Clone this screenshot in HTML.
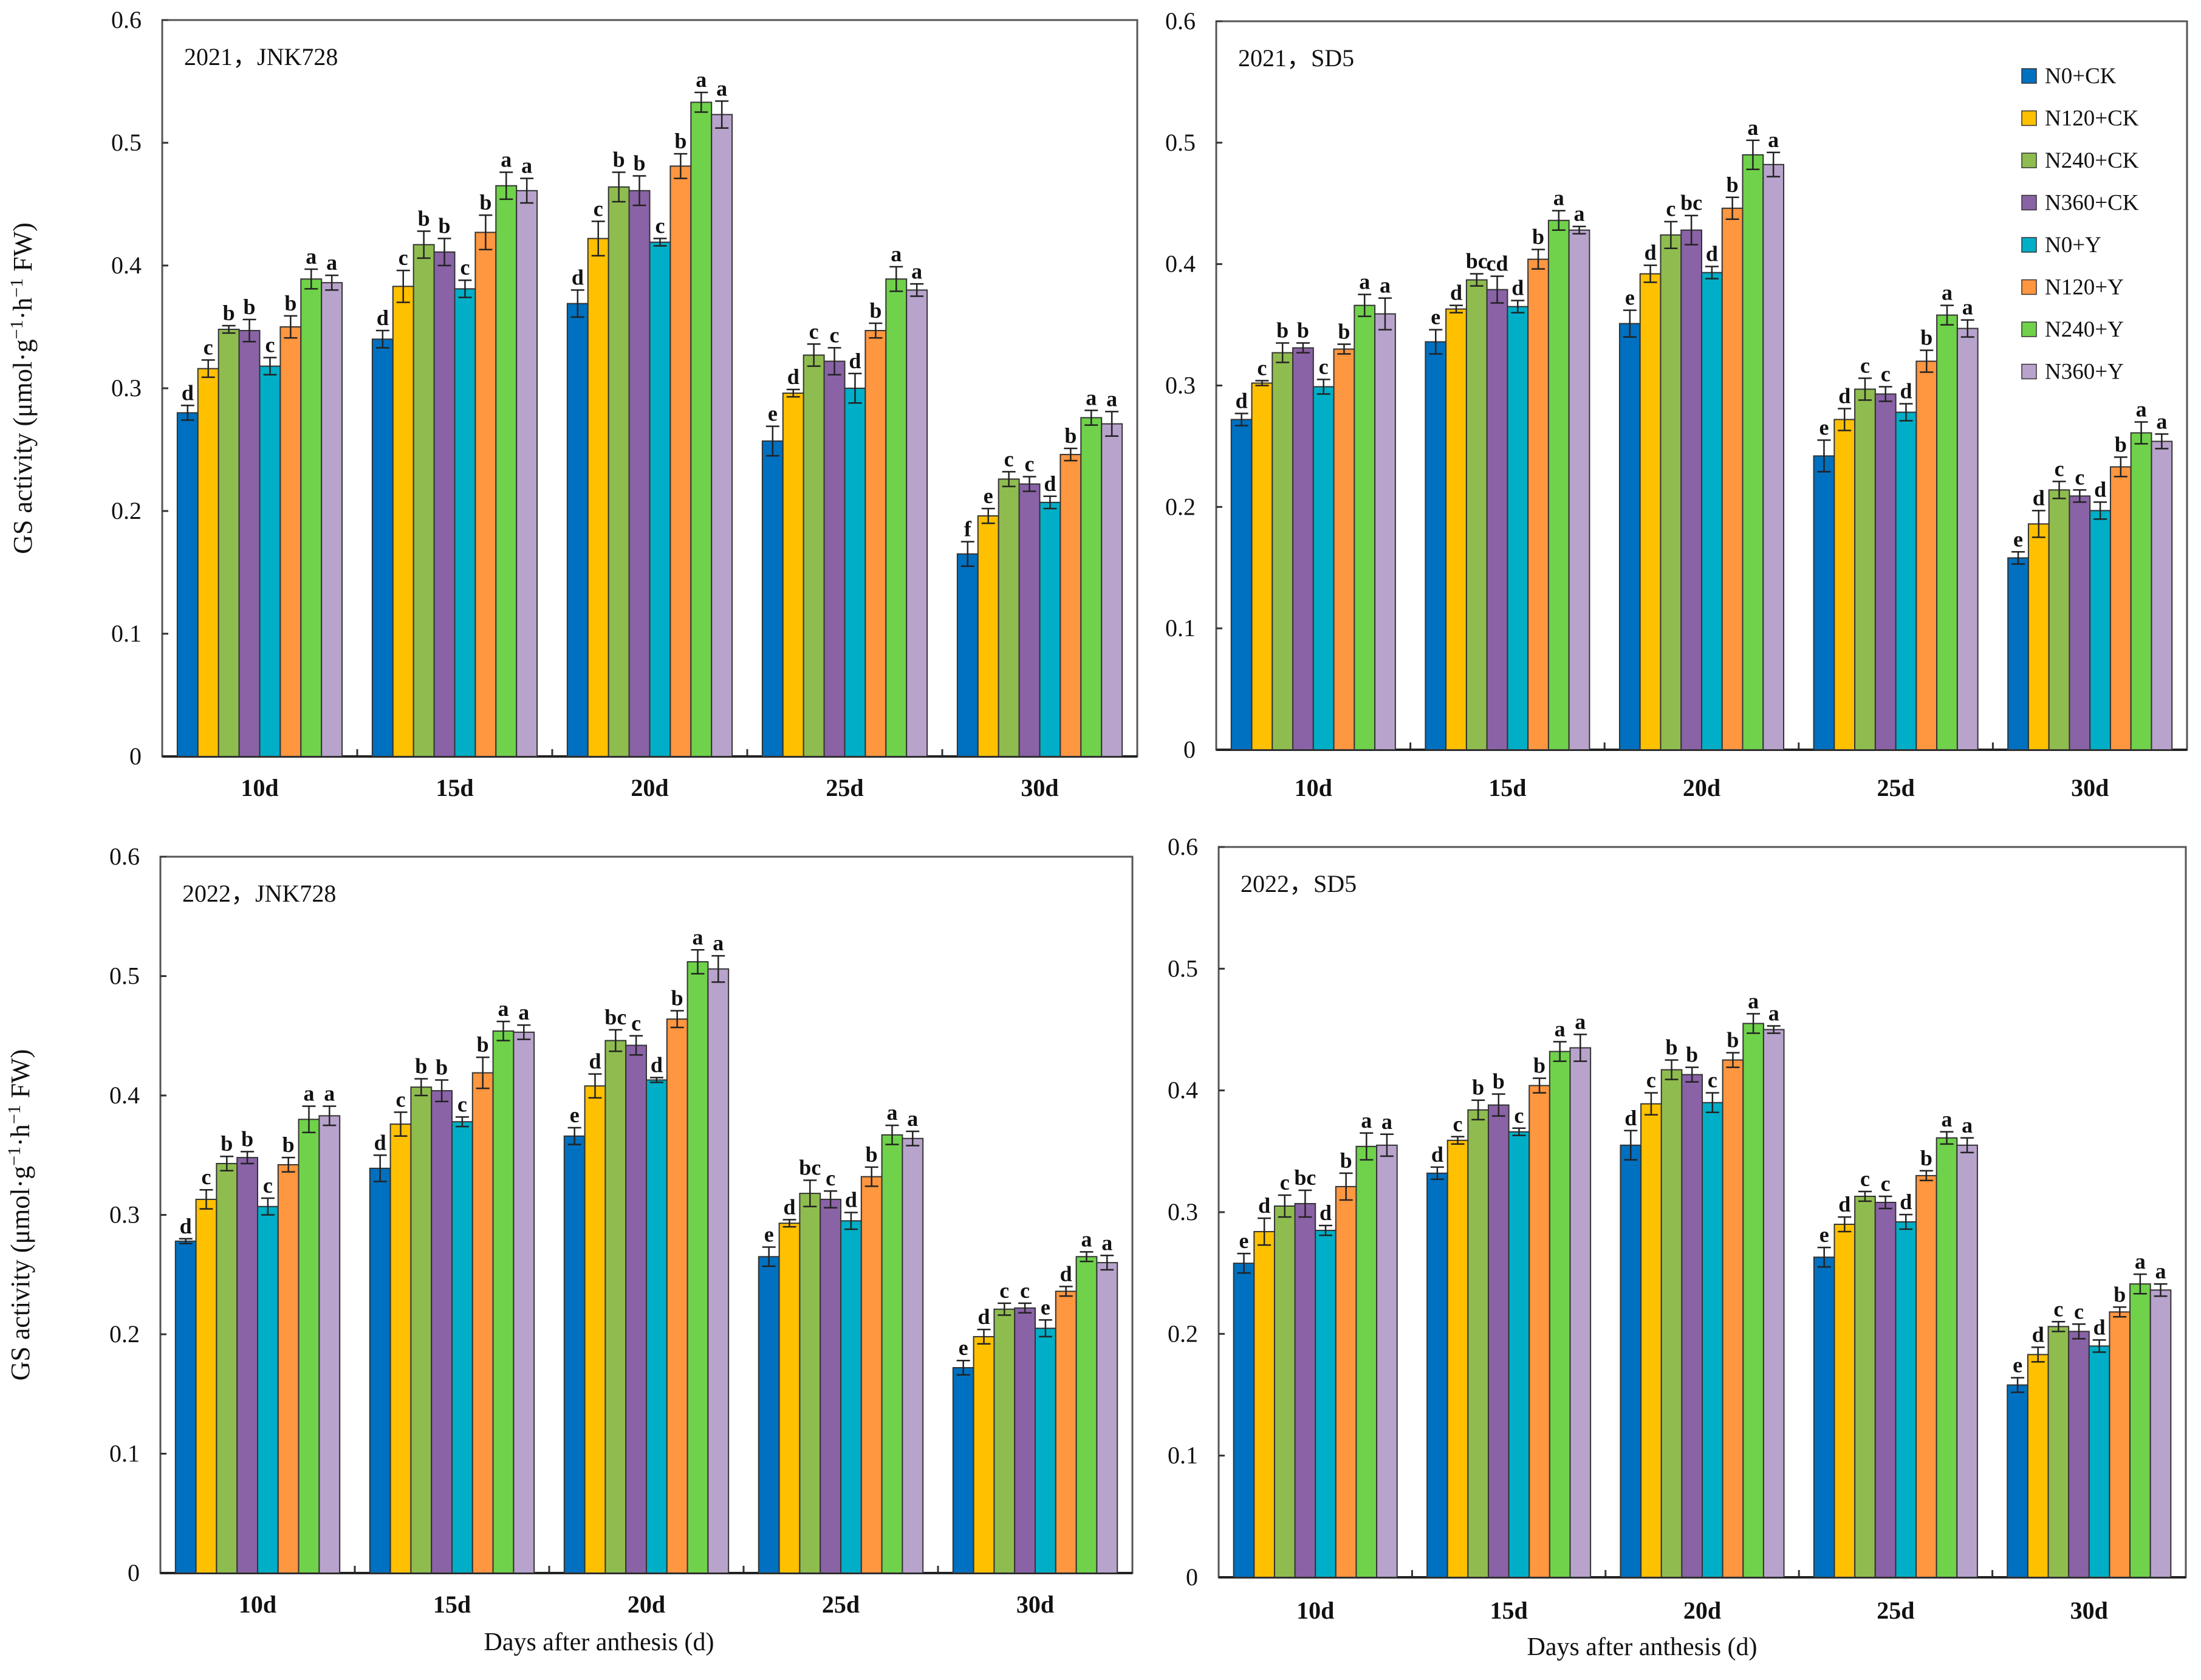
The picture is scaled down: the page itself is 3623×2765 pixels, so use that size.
<!DOCTYPE html>
<html><head><meta charset="utf-8"><style>
html,body{margin:0;padding:0;background:#fff;}
svg{display:block;font-family:"Liberation Serif",serif;}
</style></head><body>
<svg id="chart" width="3623" height="2765" viewBox="0 0 3623 2765" xmlns="http://www.w3.org/2000/svg"></svg>
<script>
const categories = ["10d","15d","20d","25d","30d"];
const seriesNames = ["N0+CK","N120+CK","N240+CK","N360+CK","N0+Y","N120+Y","N240+Y","N360+Y"];
const seriesColors = ["#0070C0","#FFC000","#8FBC4F","#8A62A6","#00AEC7","#FF9640","#6FD24A","#B8A3CC"];
const yTicks = [0,0.1,0.2,0.3,0.4,0.5,0.6];
const yTickLabels = ["0","0.1","0.2","0.3","0.4","0.5","0.6"];

// 2021 JNK728
const valsA = [[.280,.316,.348,.347,.318,.350,.389,.386],[.340,.383,.417,.411,.381,.427,.465,.461],[.369,.422,.464,.461,.419,.481,.533,.523],[.257,.296,.327,.322,.300,.347,.389,.380],[.165,.196,.226,.222,.207,.246,.276,.271]];
const errA = [[.006,.007,.003,.009,.007,.009,.008,.006],[.007,.013,.011,.011,.007,.014,.011,.010],[.011,.014,.012,.012,.003,.010,.008,.011],[.012,.003,.009,.011,.012,.006,.010,.005],[.010,.006,.006,.006,.005,.005,.006,.010]];
const letA = [["d","c","b","b","c","b","a","a"],["d","c","b","b","c","b","a","a"],["d","c","b","b","c","b","a","a"],["e","d","c","c","d","b","a","a"],["f","e","c","c","d","b","a","a"]];
// 2021 SD5
const valsB = [[.272,.302,.327,.331,.299,.330,.366,.359],[.336,.363,.387,.379,.365,.404,.436,.428],[.351,.392,.424,.428,.393,.446,.490,.482],[.242,.272,.297,.293,.278,.320,.358,.347],[.158,.186,.214,.209,.197,.233,.261,.254]];
const errB = [[.005,.002,.008,.004,.006,.004,.009,.013],[.010,.003,.005,.011,.005,.008,.008,.003],[.011,.007,.011,.012,.005,.009,.012,.010],[.013,.009,.009,.006,.007,.009,.008,.007],[.005,.011,.007,.005,.007,.008,.009,.006]];
const letB = [["d","c","b","b","c","b","a","a"],["e","d","bc","cd","d","b","a","a"],["e","d","c","bc","d","b","a","a"],["e","d","c","c","d","b","a","a"],["e","d","c","c","d","b","a","a"]];
// 2022 JNK728
const valsC = [[.278,.313,.343,.348,.307,.342,.380,.383],[.339,.376,.407,.404,.378,.419,.454,.453],[.366,.408,.446,.442,.413,.464,.512,.506],[.265,.293,.318,.313,.295,.332,.367,.364],[.172,.198,.221,.222,.205,.236,.265,.260]];
const errC = [[.002,.008,.006,.005,.007,.006,.011,.008],[.011,.010,.007,.009,.004,.013,.008,.006],[.007,.010,.009,.008,.002,.007,.010,.011],[.008,.003,.011,.007,.007,.008,.008,.006],[.006,.006,.005,.004,.007,.004,.004,.006]];
const letC = [["d","c","b","b","c","b","a","a"],["d","c","b","b","c","b","a","a"],["e","d","bc","c","d","b","a","a"],["e","d","bc","c","d","b","a","a"],["e","d","c","c","e","d","a","a"]];
// 2022 SD5
const valsD = [[.258,.284,.305,.307,.285,.321,.354,.355],[.332,.359,.384,.388,.366,.404,.432,.435],[.355,.389,.417,.413,.390,.425,.455,.450],[.263,.290,.313,.308,.292,.330,.361,.355],[.158,.183,.206,.202,.190,.218,.241,.236]];
const errD = [[.008,.011,.009,.011,.004,.011,.011,.009],[.005,.003,.008,.009,.003,.006,.008,.011],[.012,.009,.008,.006,.008,.006,.008,.003],[.008,.006,.004,.005,.006,.004,.005,.006],[.006,.006,.004,.006,.005,.004,.008,.005]];
const letD = [["e","d","c","bc","d","b","a","a"],["d","c","b","b","c","b","a","a"],["d","c","b","b","c","b","a","a"],["e","d","c","c","d","b","a","a"],["e","d","c","c","d","b","a","a"]];

const panels = [
 {name:"panel-2021-jnk728",title:"2021，JNK728",vals:valsA,err:errA,let:letA,L:267,R:1872,T:33,B:1245,xl:1296,ytx:52,xtitle:null,legend:false},
 {name:"panel-2021-sd5",title:"2021，SD5",vals:valsB,err:errB,let:letB,L:2002,R:3600,T:35,B:1234,xl:1296,ytx:null,xtitle:null,legend:true},
 {name:"panel-2022-jnk728",title:"2022，JNK728",vals:valsC,err:errC,let:letC,L:264,R:1864,T:1410,B:2589,xl:2640,ytx:48,xtitle:[986,2716],legend:false},
 {name:"panel-2022-sd5",title:"2022，SD5",vals:valsD,err:errD,let:letD,L:2006,R:3598,T:1394,B:2596,xl:2650,ytx:null,xtitle:[2703,2724],legend:false}
];
const NS="http://www.w3.org/2000/svg";
const svg=document.getElementById('chart');
function mk(tag,attrs,parent){const e=document.createElementNS(NS,tag);for(const k in attrs)e.setAttribute(k,attrs[k]);(parent||svg).appendChild(e);return e;}

panels.forEach(p=>{
  const g=mk('g',{});
  
  
  const yS=v=>p.B-(v/0.6)*(p.B-p.T);
  const cw=(p.R-p.L)/categories.length;
  const bw=cw*0.845/8;
  const xS=(ci,si)=>p.L+ci*cw+cw*0.0775+si*bw;
  const fr=mk('rect',{x:p.L,y:p.T,width:p.R-p.L,height:p.B-p.T,fill:'none',stroke:'#555','stroke-width':3},g);
  
  
  yTicks.forEach((t,i)=>{
    const y=yS(t);
    mk('line',{x1:p.L,x2:p.L+10,y1:y,y2:y,stroke:'#333','stroke-width':3},g);
    const tx=mk('text',{x:p.L-34,y:y+13,'text-anchor':'end','font-size':40,fill:'#111'},g);
    tx.textContent=yTickLabels[i];
    
    
  });
  categories.forEach((c,ci)=>{
    if(ci>0) mk('line',{x1:p.L+ci*cw,x2:p.L+ci*cw,y1:p.B,y2:p.B-12,stroke:'#333','stroke-width':3},g);
    const tx=mk('text',{x:p.L+(ci+0.5)*cw,y:p.xl+14,'text-anchor':'middle','font-size':40,'font-weight':'bold',fill:'#111'},g);
    tx.textContent=c;
    
    
  });
  mk('line',{x1:p.L,x2:p.R,y1:p.B,y2:p.B,stroke:'#222','stroke-width':4},g);
  p.vals.forEach((row,ci)=>{
    row.forEach((v,si)=>{
      const x=xS(ci,si), y=yS(v);
      const r=mk('rect',{x:x,y:y,width:bw,height:p.B-y,fill:seriesColors[si],stroke:'#333','stroke-width':2},g);
      
      
      const e=p.err[ci][si], cx=x+bw/2, yt=yS(v+e), yb=yS(v-e);
      mk('line',{x1:cx,x2:cx,y1:yt,y2:yb,stroke:'#222','stroke-width':2.5},g);
      mk('line',{x1:cx-11,x2:cx+11,y1:yt,y2:yt,stroke:'#222','stroke-width':2.5},g);
      mk('line',{x1:cx-11,x2:cx+11,y1:yb,y2:yb,stroke:'#222','stroke-width':2.5},g);
      const lt=mk('text',{x:cx,y:yt-9,'text-anchor':'middle','font-size':36,'font-weight':'bold',fill:'#111'},g);
      lt.textContent=p.let[ci][si];
      
      
    });
  });
  const tt=mk('text',{x:p.L+36,y:p.T+74,'font-size':40,fill:'#111'},g);
  tt.textContent=p.title;
  
  
  if(p.ytx!==null){
    const cy=(p.T+p.B)/2;
    const yt=mk('text',{x:p.ytx,y:cy,'text-anchor':'middle','font-size':44,fill:'#111',transform:'rotate(-90 '+p.ytx+' '+cy+')'},g);
    yt.innerHTML='GS activity (μmol·g<tspan dy="-15" font-size="30">−1</tspan><tspan dy="15">·h</tspan><tspan dy="-15" font-size="30">−1</tspan><tspan dy="15"> FW)</tspan>';
    
    
  }
  if(p.xtitle){
    const xt=mk('text',{x:p.xtitle[0],y:p.xtitle[1],'text-anchor':'middle','font-size':42,fill:'#111'},g);
    xt.textContent='Days after anthesis (d)';
    
    
  }
  if(p.legend){
    const lg=mk('g',{},g);
    
    
    seriesNames.forEach((n,si)=>{
      const y=127+si*69.5;
      const sq=mk('rect',{x:3328,y:y-14,width:24,height:24,fill:seriesColors[si],stroke:'#333','stroke-width':1.5},lg);
      
      
      const t=mk('text',{x:3366,y:y+10,'font-size':37,fill:'#111'},lg);
      t.textContent=n;
      
      
    });
  }
});
</script>
</body></html>
